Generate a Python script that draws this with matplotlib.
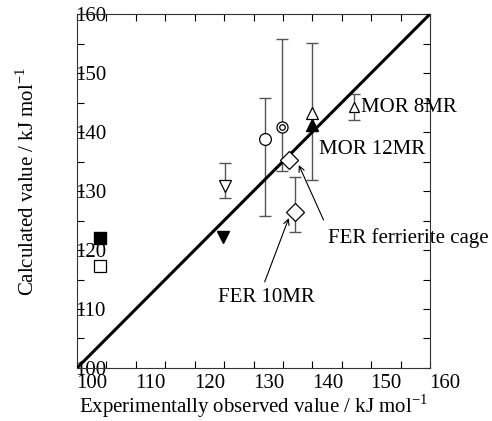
import matplotlib
matplotlib.use("Agg")
import matplotlib.pyplot as plt
import matplotlib.transforms as mtransforms

plt.rcParams["font.family"] = ["Liberation Serif", "DejaVu Serif"]
plt.rcParams["mathtext.fontset"] = "custom"
plt.rcParams["mathtext.rm"] = "Liberation Serif"

# points without error bars: (x, y)
sq_filled = ([103.9], [122.0])
sq_open = ([103.9], [117.3])
tri_down_filled = ([124.9], [122.2])
tri_up_filled = ([140.0], [141.2])
dia_cage = ([136.0], [135.3])

# points with error bars: x, y, lower, upper
tri_down_x, tri_down_y, tri_down_lo, tri_down_hi = [125.1], [130.9], [128.8], [134.8]
circ_x, circ_y, circ_lo, circ_hi = [131.9], [138.8], [125.8], [145.8]
dcirc_x, dcirc_y, dcirc_lo, dcirc_hi = [134.8], [140.9], [133.4], [155.8]
dia10_x, dia10_y, dia10_lo, dia10_hi = [137.0], [126.4], [123.1], [132.4]
tri_up_x, tri_up_y, tri_up_lo, tri_up_hi = [140.0], [143.3], [131.9], [155.1]
mor8_x, mor8_y, mor8_lo, mor8_hi = [147.0], [144.3], [142.0], [146.4]

diag = [100, 160]

fig = plt.figure(figsize=(4.92, 4.21), dpi=100)
ax = fig.add_axes([0.1565, 0.1259, 0.7175, 0.8408])

ebar_col = "#555555"


def errbar(x, y, lo, hi, marker, ms, mfc="white"):
    yerr = [[y[0] - lo[0]], [hi[0] - y[0]]]
    ax.errorbar(x, y, yerr=yerr, fmt="none", ecolor=ebar_col, elinewidth=1.0,
                capsize=4.5, capthick=1.0, zorder=2)
    ax.plot(x, y, linestyle="none", marker=marker, ms=ms, mfc=mfc, mec="black",
            mew=0.9, zorder=4)


ax.plot(diag, diag, color="black", lw=2.2, zorder=3)

ax.plot(*sq_filled, "s", ms=8.5, mfc="black", mec="black", zorder=4)
ax.plot(*sq_open, "s", ms=8.5, mfc="white", mec="black", mew=0.9, zorder=4)
ax.plot(*tri_down_filled, "v", ms=9, mfc="black", mec="black", zorder=4)
ax.plot(*tri_up_filled, "^", ms=9, mfc="black", mec="black", zorder=4)
ax.plot(*dia_cage, "D", ms=9.5, mfc="white", mec="black", mew=0.9, zorder=4)

errbar(tri_down_x, tri_down_y, tri_down_lo, tri_down_hi, "v", 9)
errbar(circ_x, circ_y, circ_lo, circ_hi, "o", 8.5)
errbar(dcirc_x, dcirc_y, dcirc_lo, dcirc_hi, "o", 8)
ax.plot(dcirc_x, dcirc_y, "o", ms=4, mfc="white", mec="black", mew=0.9, zorder=5)
errbar(dia10_x, dia10_y, dia10_lo, dia10_hi, "D", 9.5)
errbar(tri_up_x, tri_up_y, tri_up_lo, tri_up_hi, "^", 9)
errbar(mor8_x, mor8_y, mor8_lo, mor8_hi, "^", 7)

fs = 15
ax.text(148.2, 144.1, "MOR 8MR", fontsize=fs, va="center", ha="left")
ax.text(141.1, 137.1, "MOR 12MR", fontsize=fs, va="center", ha="left")
ax.text(142.6, 122.0, "FER ferrierite cage", fontsize=fs, va="center", ha="left")
ax.text(124.0, 112.0, "FER 10MR", fontsize=fs, va="center", ha="left")
arrow = dict(arrowstyle="->", color="black", lw=0.8, shrinkA=0, shrinkB=0)
ax.annotate("", xy=(137.7, 134.4), xytext=(141.9, 125.1), arrowprops=arrow)
ax.annotate("", xy=(136.0, 125.4), xytext=(131.9, 114.6), arrowprops=arrow)

ax.set_xlim(100, 160)
ax.set_ylim(100, 160)
ax.set_xticks(range(100, 161, 10))
ax.set_yticks(range(100, 161, 10))
ax.set_xticks(range(105, 160, 10), minor=True)
ax.set_yticks(range(105, 160, 10), minor=True)
ax.tick_params(which="both", direction="in", top=True, right=True, length=5,
               width=0.8, labelsize=fs)
ax.tick_params(axis="y", pad=1.5)
ax.tick_params(axis="x", pad=4)
for lab in ax.get_yticklabels():
    lab.set_horizontalalignment("left")
shift = mtransforms.ScaledTranslation(0.15, 0, fig.dpi_scale_trans)
for lab in ax.get_xticklabels():
    lab.set_transform(lab.get_transform() + shift)

for sp in ax.spines.values():
    sp.set_linewidth(0.8)
    sp.set_color("#333333")

ax.set_xlabel("Experimentally observed value / kJ mol$^{-1}$", fontsize=fs, labelpad=0)
fig.text(28 / 492, 1 - 181 / 421, "Calculated value / kJ mol$^{-1}$", fontsize=fs,
         rotation=90, ha="center", va="center")

fig.savefig("out.png", dpi=100)
